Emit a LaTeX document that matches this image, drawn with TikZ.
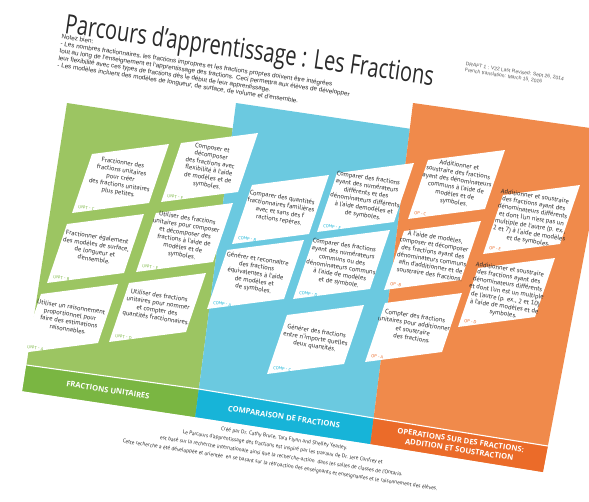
\documentclass[tikz,border=0pt]{standalone}
\usepackage{fontspec}
\setmainfont{Liberation Sans}
\newfontfamily\titlefont{Open Sans}
\newfontfamily\cardfont{PT Sans}
\newfontfamily\bandfont{Open Sans}
\usetikzlibrary{calc}

\definecolor{greenpanel}{HTML}{9CC562}
\definecolor{greenband}{HTML}{7AB642}
\definecolor{bluepanel}{HTML}{6BC9E0}
\definecolor{blueband}{HTML}{17B4D8}
\definecolor{orangepanel}{HTML}{F08A4B}
\definecolor{orangeband}{HTML}{EB6B29}
\definecolor{ink}{HTML}{2A2A2A}

% One pathway card: parallelogram, centred statement and its code.
% #1 name, #2 top-left corner, #3 code colour, #4 code, #5 statement
\newcommand\fraccard[5]{%
  \fill[white] (#2) -- ++(77,-10) -- ++(-20,59) -- ++(-77,10) -- cycle;
  \node[cardtext] (#1) at ($(#2)+(28.5,24)$) {#5};
  \node[cardtag, text=#3] (#1-tag) at ($(#2)+(-20,59)+(6,-5)$) {#4};
}

\begin{document}
\begin{tikzpicture}[x=1pt,y=-1pt,
  cardtext/.style={align=center, inner sep=0pt, rotate=-8.8, text=ink,
    font=\cardfont\fontsize{6.5}{7.5}\selectfont},
  cardtag/.style={anchor=base west, inner sep=0pt, rotate=-8.8,
    font=\cardfont\fontsize{4.4}{5}\selectfont},
  bandtext/.style={align=center, inner sep=0pt, rotate=-8.8, text=white,
    font=\bandfont\bfseries\fontsize{7.6}{9.5}\selectfont},
]
\useasboundingbox (0,0) rectangle (589,501);
\clip (0,0) rectangle (589,501);
\fill[white] (0,0) rectangle (589,501);

% heading
\node[anchor=base west, inner sep=0pt, rotate=-8.1, text=ink,
      font=\titlefont\fontsize{27}{32}\selectfont] (title) at (64,33)
  {\scalebox{0.74}[1]{Parcours d’apprentissage : Les Fractions}};
\node[anchor=north west, inner sep=0pt, rotate=-8.5, align=left, text=ink,
      font=\fontsize{6.3}{7.2}\selectfont] (notes) at (62,34)
  {Notez bien:\\
   - Les nombres fractionnaires, les fractions impropres et les fractions propres doivent être intégrées\\
   tout au long de l’enseignement et l’apprentissage des fractions. Ceci permettra aux élèves de développer\\
   leur flexibilité avec ces types de fractions dès le début de leur apprentissage.\\
   - Les modèles incluent des modèles de longueur, de surface, de volume et d’ensemble.};
\node[anchor=north west, inner sep=0pt, rotate=-8.5, align=left, text=ink!80,
      font=\fontsize{5}{6}\selectfont] (draft) at (466,62)
  {DRAFT 1 : V22 Last Revised: Sept 26, 2014\\French translation: March 15, 2016};

% three columns
\fill[greenpanel]  (67,103) -- (232.7,128.2) -- (195.2,417) -- (22.4,391) -- cycle;
\fill[bluepanel]   (236,103) -- (409.8,128.7) -- (370.4,444) -- (195.2,417) -- cycle;
\fill[orangepanel] (413,103) -- (607.8,130.5) -- (542.9,472) -- (370.4,444) -- cycle;

% footer bands
\fill[greenband]  (26.4,365) -- (198.8,389) -- (195.2,417) -- (22.4,391) -- cycle;
\fill[blueband]   (198.8,389) -- (373.6,418) -- (370.4,444) -- (195.2,417) -- cycle;
\fill[orangeband] (373.6,418) -- (547.8,446) -- (542.9,472) -- (370.4,444) -- cycle;
\draw[white, line width=1.1pt] (26.4,365) -- (198.8,389) -- (373.6,418) -- (547.8,446);

\node[bandtext] (unitband) at (108,390) {FRACTIONS UNITAIRES};
\node[bandtext] (compband) at (284,417) {COMPARAISON DE FRACTIONS};
\node[bandtext] (opband) at (460,445) {OPERATIONS SUR DES FRACTIONS:\\ADDITION ET SOUSTRACTION};

% unit fractions
\fraccard{unitC}{92,154}{greenband}{UNIT - C}{Fractionner des\\fractions unitaires\\pour créer\\des fractions unitaires\\plus petites.}
\fraccard{unitF}{181,143}{greenband}{UNIT - F}{Composer et\\décomposer\\des fractions avec\\flexibilité à l’aide\\de modèles et de\\symboles.}
\fraccard{unitB}{67,224}{greenband}{UNIT - B}{Fractionner également\\des modèles de surface,\\de longueur et\\d’ensemble.}
\fraccard{unitE}{156,213}{greenband}{UNIT - E}{Utiliser des fractions\\unitaires pour composer\\et décomposer des\\fractions à l’aide de\\modèles et de\\symboles.}
\fraccard{unitA}{41,294}{greenband}{UNIT - A}{Utiliser un raisonnement\\proportionnel pour\\faire des estimations\\raisonnables.}
\fraccard{unitD}{129,283}{greenband}{UNIT - D}{Utiliser des fractions\\unitaires pour nommer\\et compter des\\quantités fractionnaires.}

% comparing fractions
\fraccard{compB}{252,185}{blueband}{COMP - B}{Comparer des quantités\\fractionnaires familières\\avec et sans des f\\ractions repères.}
\fraccard{compE}{337,173}{blueband}{COMP - E}{Comparer des fractions\\ayant des numérateurs\\différents et des\\dénominateurs différents\\à l’aide demodèles et\\de symboles.}
\fraccard{compA}{227,250}{blueband}{COMP - A}{Générer et reconnaître\\des fractions\\équivalentes à l’aide\\de modèles et\\de symboles.}
\fraccard{compD}{313,240}{blueband}{COMP - D}{Comparer des fractions\\ayant des numérateurs\\communs ou des\\dénominateurs communs\\à l’aide de modèles\\et de symbole.}
\fraccard{compC}{287,315}{blueband}{COMP - C}{Générer des fractions\\entre n’importe quelles\\deux quantités.}

% operations
\fraccard{opC}{428,160}{orangeband}{OP - C}{Additionner et\\soustraire des fractions\\ayant des dénominateurs\\communs à l’aide de\\modèles et de\\symboles.}
\fraccard{opB}{404,231}{orangeband}{OP -B}{À l’aide de modèles,\\composer et décomposer\\des fractions ayant des\\dénominateurs communs\\afin d’additionner et de\\soustraire des fractions.}
\fraccard{opA}{385,303}{orangeband}{OP - A}{Compter des fractions\\unitaires pour additionner\\et soustraire\\des fractions.}
\fraccard{opE}{503,195}{orangeband}{OP - E}{Additionner et soustraire\\des fractions ayant des\\dénominateurs différents\\et dont l’un n’est pas un\\multiple de l’autre (p. ex.,\\2 et 7) à l’aide de modèles\\et de symboles.}
\fraccard{opD}{478,268}{orangeband}{OP - D}{Additionner et soustraire\\des fractions ayant des\\dénominateurs différents\\et dont l’un est un multiple\\de l’autre (p. ex., 2 et 10)\\à l’aide de modèles et de\\symboles.}

% credits
\node[align=center, inner sep=0pt, rotate=-8.6, text=ink,
      font=\cardfont\fontsize{5.3}{9}\selectfont] (credits) at (282,452)
  {Créé par Dr. Cathy Bruce, Tara Flynn and Shelley Yearley.\\
   Le Parcours d’apprentissage des fractions est inspiré par les travaux de Dr. Jere Confrey et\\
   est basé sur la recherche internationale ainsi que la recherche-action\ \ dans les salles de classes de l’Ontario.\\
   Cette recherche a été développée et orientée\ \ en se basant sur la rétroaction des enseignants et enseignantes et le raisonnement des élèves.};
\end{tikzpicture}
\end{document}
